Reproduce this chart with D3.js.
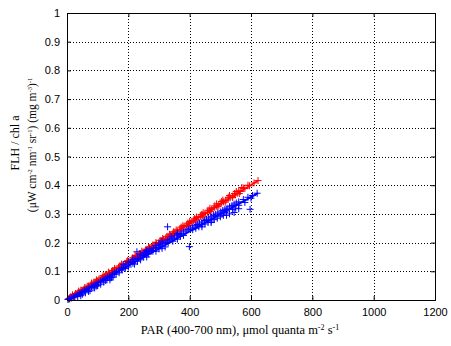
<!DOCTYPE html>
<html><head><meta charset="utf-8">
<script src="https://cdn.jsdelivr.net/npm/d3@7"></script>
<style>body{margin:0;background:#fff}svg{display:block}</style>
</head><body>
<svg id="c" width="451" height="346"></svg>
<script>
const xTicks = [0,200,400,600,800,1000,1200];
const yTicks = [0,0.1,0.2,0.3,0.4,0.5,0.6,0.7,0.8,0.9,1];
const yTickLabels = ["0","0.1","0.2","0.3","0.4","0.5","0.6","0.7","0.8","0.9","1"];

const redX = [5,10,15,20,25,30,35,40,48,55,62,70,78,85,92,100,108,115,122,130,138,145,152,160,168,175,182,190,200,210,218,225,232,240,248,255,262,270,278,285,292,300,308,315,322,330,338,345,352,360,368,375,382,390,398,405,412,420,428,435,442,450,458,465,472,480,488,495,502,510,518,525,532,540,548,555,565,580,595,623,
  12,28,45,66,88,104,126,148,172,195,214,236,258,280,304,326,348,372,394,416,438,460,482,504,526,546,560,575,
  18,38,58,80,96,118,135,155,178,198,222,244,266,290,312,334,356,378,400,422,444,466,488,508,530,552,570,590,610,
  24,50,74,98,124,150,176,202,228,252,276,300,324,348,372,396,420,444,468,492,516,540,562];
const redY = [0.004,0.007,0.010,0.013,0.017,0.020,0.024,0.027,0.032,0.037,0.042,0.047,0.052,0.057,0.062,0.067,0.072,0.078,0.082,0.087,0.093,0.097,0.102,0.107,0.113,0.118,0.122,0.127,0.134,0.140,0.146,0.151,0.156,0.161,0.166,0.171,0.176,0.181,0.186,0.191,0.196,0.201,0.206,0.211,0.216,0.221,0.226,0.231,0.236,0.241,0.246,0.251,0.256,0.261,0.266,0.271,0.276,0.281,0.287,0.291,0.296,0.301,0.306,0.311,0.316,0.322,0.327,0.331,0.336,0.342,0.347,0.352,0.356,0.362,0.366,0.372,0.378,0.388,0.398,0.416,
  0.011,0.022,0.034,0.048,0.062,0.073,0.088,0.103,0.119,0.134,0.147,0.162,0.177,0.192,0.208,0.222,0.238,0.254,0.268,0.283,0.298,0.313,0.328,0.343,0.358,0.371,0.380,0.390,
  0.018,0.031,0.044,0.059,0.070,0.085,0.097,0.110,0.125,0.138,0.155,0.170,0.184,0.200,0.214,0.229,0.244,0.259,0.274,0.289,0.304,0.320,0.335,0.348,0.364,0.378,0.392,0.400,0.408,
  0.011,0.029,0.045,0.061,0.078,0.095,0.113,0.130,0.148,0.164,0.180,0.196,0.212,0.228,0.244,0.260,0.276,0.292,0.308,0.325,0.341,0.357,0.371];

const blueX = [3,8,14,20,26,33,40,46,52,58,65,72,80,88,95,102,110,118,125,132,140,148,155,162,170,178,185,192,200,208,215,222,230,238,245,252,260,268,275,282,290,298,305,312,320,328,335,342,350,358,365,372,380,388,395,402,410,418,425,432,440,448,455,462,470,478,485,492,500,508,515,522,530,538,545,552,560,575,590,605,620,
  50,60,75,90,100,110,130,140,145,160,170,190,215,230,240,250,265,300,320,328,330,345,360,370,399,410,420,430,440,450,460,470,480,490,500,505,510,515,520,530,540,550,560,597,280,180,255,300,260,
  185,200,215,228,240,258,270,290,310,340,360,
  85,95,120,140,150,125,70,35,45,200,220,260,290,310,380,440,470,520,545,560,580,600];
const blueY = [0.002,0.004,0.007,0.010,0.013,0.018,0.022,0.025,0.030,0.033,0.038,0.042,0.046,0.052,0.055,0.060,0.065,0.070,0.075,0.080,0.084,0.090,0.094,0.099,0.104,0.110,0.114,0.119,0.125,0.130,0.135,0.140,0.145,0.150,0.155,0.160,0.164,0.169,0.173,0.178,0.183,0.188,0.192,0.197,0.201,0.206,0.210,0.215,0.219,0.224,0.228,0.232,0.237,0.241,0.246,0.250,0.254,0.259,0.263,0.268,0.272,0.277,0.281,0.286,0.290,0.294,0.299,0.303,0.307,0.312,0.316,0.320,0.325,0.329,0.334,0.338,0.342,0.350,0.358,0.364,0.372,
  0.020,0.025,0.032,0.042,0.050,0.055,0.070,0.070,0.078,0.090,0.095,0.110,0.128,0.135,0.140,0.150,0.160,0.178,0.185,0.255,0.200,0.205,0.212,0.222,0.186,0.245,0.250,0.255,0.262,0.265,0.270,0.275,0.280,0.285,0.290,0.300,0.295,0.305,0.310,0.300,0.315,0.320,0.330,0.316,0.170,0.105,0.165,0.195,0.170,
  0.124,0.133,0.142,0.168,0.160,0.172,0.178,0.190,0.205,0.222,0.232,
  0.045,0.048,0.062,0.077,0.080,0.068,0.030,0.012,0.015,0.115,0.125,0.150,0.170,0.180,0.225,0.255,0.270,0.295,0.305,0.318,0.340,0.355];

const fitX = [0, 623];
const redFit = [0, 0.416];
const blueFit = [0, 0.372];

const svg = d3.select("#c");
const L=67, R=435, T=13, B=300;
const x = d3.scaleLinear().domain([0,1200]).range([L,R]);
const y = d3.scaleLinear().domain([0,1]).range([B,T]);

// grid
const g = svg.append("g");
g.selectAll(".gx").data(xTicks.slice(1,-1)).join("line")
  .attr("x1",d=>Math.round(x(d))+0.5).attr("x2",d=>Math.round(x(d))+0.5).attr("y1",T).attr("y2",B)
  .attr("stroke","#000").attr("stroke-width",1).attr("stroke-dasharray","1,2");
g.selectAll(".gy").data(yTicks.slice(1,-1)).join("line")
  .attr("y1",d=>Math.round(y(d))+0.5).attr("y2",d=>Math.round(y(d))+0.5).attr("x1",L).attr("x2",R)
  .attr("stroke","#000").attr("stroke-width",1).attr("stroke-dasharray","1,2");

function plus(sel, xs, ys, color){
  const d = xs.map((v,i)=>[v,ys[i]]);
  sel.append("g").selectAll("path").data(d).join("path")
    .attr("d",p=>{const cx=x(p[0]), cy=y(p[1]), s=3.5; return `M${cx-s},${cy}H${cx+s}M${cx},${cy-s}V${cy+s}`;})
    .attr("stroke",color).attr("stroke-width",1).attr("fill","none");
}
const line = d3.line().x(d=>x(d[0])).y(d=>y(d[1]));
plus(svg, redX, redY, "#ff0000");
svg.append("path").datum(fitX.map((v,i)=>[v,redFit[i]])).attr("d",line).attr("stroke","#ff0000").attr("stroke-width",1.5).attr("fill","none");
plus(svg, blueX, blueY, "#0000ff");
svg.append("path").datum(fitX.map((v,i)=>[v,blueFit[i]])).attr("d",line).attr("stroke","#0000ff").attr("stroke-width",2).attr("fill","none");

// axes (ticks inward)
const ax = svg.append("g");
ax.append("g").attr("transform",`translate(0,${B})`).call(d3.axisBottom(x).tickValues(xTicks).tickSize(-4).tickPadding(8).tickFormat(d3.format("d")));
ax.append("g").attr("transform",`translate(0,${T})`).call(d3.axisTop(x).tickValues(xTicks).tickSize(-4).tickFormat(""));
ax.append("g").attr("transform",`translate(${L},0)`).call(d3.axisLeft(y).tickValues(yTicks).tickSize(-4).tickPadding(7).tickFormat((d,i)=>yTickLabels[i]));
ax.append("g").attr("transform",`translate(${R},0)`).call(d3.axisRight(y).tickValues(yTicks).tickSize(-4).tickFormat(""));
ax.selectAll(".domain").attr("stroke","#000");
ax.selectAll(".tick line").attr("stroke","#000");
ax.selectAll("text").attr("fill","#000").attr("font-family","Liberation Sans, Arial, sans-serif").attr("font-size",11);

// labels
const serif = "Liberation Serif, Times New Roman, serif";
const xl = svg.append("text").attr("x",240).attr("y",334).attr("text-anchor","middle")
  .attr("font-family",serif).attr("font-size",12.5).attr("fill","#000");
xl.append("tspan").text("PAR (400-700 nm), μmol quanta m");
xl.append("tspan").attr("font-size",8).attr("dy",-4).text("-2");
xl.append("tspan").attr("dy",4).text(" s");
xl.append("tspan").attr("font-size",8).attr("dy",-4).text("-1");

svg.append("text").attr("transform","translate(19,143) rotate(-90)").attr("text-anchor","middle")
  .attr("font-family",serif).attr("font-size",12).attr("fill","#000").text("FLH / chl a");
const yl2 = svg.append("text").attr("transform","translate(36,145) rotate(-90)").attr("text-anchor","middle")
  .attr("font-family",serif).attr("font-size",11.5).attr("fill","#000");
yl2.append("tspan").text("(μW cm");
yl2.append("tspan").attr("font-size",6.5).attr("dy",-4).text("-2");
yl2.append("tspan").attr("dy",4).text(" nm");
yl2.append("tspan").attr("font-size",6.5).attr("dy",-4).text("-1");
yl2.append("tspan").attr("dy",4).text(" sr");
yl2.append("tspan").attr("font-size",6.5).attr("dy",-4).text("-1");
yl2.append("tspan").attr("dy",4).text(") (mg m");
yl2.append("tspan").attr("font-size",6.5).attr("dy",-4).text("-3");
yl2.append("tspan").attr("dy",4).text(")");
yl2.append("tspan").attr("font-size",6.5).attr("dy",-4).text("-1");
</script>
</body></html>
